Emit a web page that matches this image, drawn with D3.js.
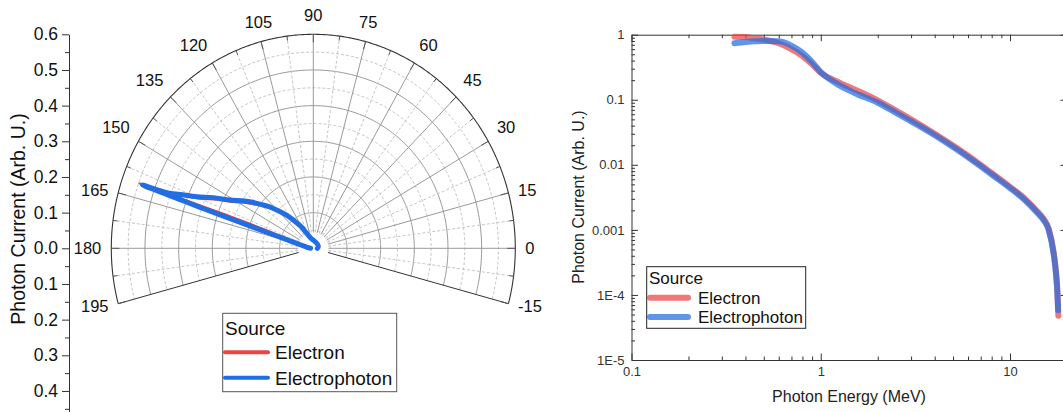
<!DOCTYPE html>
<html>
<head>
<meta charset="utf-8">
<script src="https://cdn.jsdelivr.net/npm/d3@7"></script>
<style>
  html, body { margin: 0; padding: 0; background: #fff; }
  svg { display: block; font-family: "Liberation Sans", Arial, sans-serif; }
</style>
</head>
<body>
<svg id="fig" width="1063" height="412"></svg>
<script>
// ---------- data ----------
const seriesNames = ["Electron", "Electrophoton"];
const seriesColors = ["#ea4444", "#216de3"];

// angular distribution (angle in degrees, photon current)
const electronAngle = [180, 172, 167, 163, 161, 160.2, 160.1, 160.2, 160.4, 160.5, 160.6,
  160.1, 159.0, 157.3, 154.5, 151.3, 147, 143.1, 139, 135.3, 131, 126.8, 121, 115, 105, 90, 45, 17, 0];
const electronR = [0.008, 0.02, 0.035, 0.065, 0.10, 0.14, 0.20, 0.273, 0.35, 0.43, 0.548,
  0.455, 0.412, 0.362, 0.318, 0.272, 0.234, 0.202, 0.172, 0.147, 0.120, 0.095, 0.069, 0.044, 0.030, 0.022, 0.016, 0.015, 0.012];

const photonAngle = [180, 172, 167.8, 165.5, 163.6, 162.6, 162, 161.6, 161.4, 161.2, 161.0, 160.7,
  160.3, 159.1, 157.3, 154.5, 151.3, 147, 143.1, 139, 135.3, 131, 126.8, 121, 115, 105, 90, 45, 17, 0];
const photonR = [0.008, 0.018, 0.025, 0.040, 0.062, 0.10, 0.141, 0.20, 0.273, 0.34, 0.405, 0.5375,
  0.462, 0.423, 0.375, 0.33, 0.282, 0.243, 0.21, 0.18, 0.153, 0.125, 0.099, 0.072, 0.046, 0.030, 0.023, 0.017, 0.0155, 0.012];

const polarTickAngles = [-15, 0, 15, 30, 45, 60, 75, 90, 105, 120, 135, 150, 165, 180, 195];
const polarAxisTicks = [-0.4, -0.3, -0.2, -0.1, 0, 0.1, 0.2, 0.3, 0.4, 0.5, 0.6];

// energy spectrum (MeV, photon current)
const electronE = [0.35, 0.40, 0.45, 0.50, 0.60, 0.70, 0.80, 0.90, 1.00, 1.20, 1.50, 2.0, 2.5, 3.0, 4.0, 5.0, 6.0, 7.0, 8.0, 10, 12, 14, 15, 16, 17, 17.5, 17.8, 18.0];
const electronI = [0.93, 0.92, 0.88, 0.84, 0.74, 0.60, 0.47, 0.35, 0.26, 0.195, 0.145, 0.098, 0.068, 0.050, 0.030, 0.0198, 0.0138, 0.0100, 0.0075, 0.0046, 0.0030, 0.0019, 0.0015, 0.00105, 0.00045, 0.00022, 0.00011, 0.000048];
const photonE = [0.35, 0.40, 0.45, 0.50, 0.60, 0.70, 0.80, 0.90, 1.00, 1.20, 1.50, 2.0, 2.5, 3.0, 4.0, 5.0, 6.0, 7.0, 8.0, 10, 12, 14, 15, 16, 17, 17.5, 17.8, 17.95];
const photonI = [0.74, 0.77, 0.79, 0.80, 0.79, 0.68, 0.53, 0.38, 0.265, 0.18, 0.128, 0.090, 0.063, 0.0465, 0.0285, 0.0188, 0.0131, 0.0095, 0.0071, 0.0044, 0.00285, 0.0018, 0.00143, 0.0010, 0.00043, 0.00021, 0.000105, 0.000058];

const energyTicks = [0.1, 1, 10];
const energyTickLabels = ["0.1", "1", "10"];
const currentTicks = [1e-5, 1e-4, 1e-3, 1e-2, 1e-1, 1];
const currentTickLabels = ["1E-5", "1E-4", "0.001", "0.01", "0.1", "1"];

// ---------- setup ----------
const svg = d3.select("#fig");
const FONT_L = 17.5, FONT_R = 13;

// ================= polar panel =================
const cx = 313.3, cy = 248.3;
const rx = d3.scaleLinear().domain([0, 0.6]).range([0, 202]);
const ry = d3.scaleLinear().domain([0, 0.6]).range([0, 214]);
const rad = d => d * Math.PI / 180;
const pt = (deg, r) => [cx + rx(r) * Math.cos(rad(deg)), cy - ry(r) * Math.sin(rad(deg))];

const gP = svg.append("g");
const arcLine = d3.line();

// rings
d3.range(1, 12).forEach(i => {
  const r = i * 0.05;
  const major = i % 2 === 0;
  gP.append("path")
    .attr("d", arcLine(d3.range(-15, 195.5, 1).map(a => pt(a, r))))
    .attr("fill", "none")
    .attr("stroke", major ? "#9a9a9a" : "#c6c6c6")
    .attr("stroke-width", 1)
    .attr("stroke-dasharray", major ? null : "3,2");
});
// spokes
d3.range(-15, 195.1, 7.5).forEach(a => {
  const major = Math.abs(a % 15) < 1e-6;
  const edge = a === -15 || a === 195;
  gP.append("path")
    .attr("d", arcLine([pt(a, 0.045), pt(a, 0.6)]))
    .attr("stroke", edge ? "#333" : (major ? "#9a9a9a" : "#c6c6c6"))
    .attr("stroke-width", 1)
    .attr("stroke-dasharray", major || edge ? null : "3,2");
});
// outer boundary
gP.append("path")
  .attr("d", arcLine(d3.range(-15, 195.5, 0.5).map(a => pt(a, 0.6))))
  .attr("fill", "none").attr("stroke", "#333").attr("stroke-width", 1.1);
// boundary ticks (inward)
d3.range(-15, 195.1, 7.5).forEach(a => {
  const major = Math.abs(a % 15) < 1e-6;
  const p0 = pt(a, 0.6);
  const len = major ? 8 : 4.5;
  gP.append("line")
    .attr("x1", p0[0]).attr("y1", p0[1])
    .attr("x2", p0[0] - len * Math.cos(rad(a))).attr("y2", p0[1] + len * Math.sin(rad(a)))
    .attr("stroke", "#555").attr("stroke-width", 1);
});
// angle labels: anchored just outside the rim, aligned by quadrant
polarTickAngles.forEach(a => {
  const p0 = pt(a, 0.6);
  const c = Math.cos(rad(a)), s = Math.sin(rad(a));
  const ax = p0[0] + 10 * c, ay = p0[1] - 10 * s;
  const t = gP.append("text").text(String(a))
    .attr("font-size", 16.5).attr("fill", "#111")
    .attr("text-anchor", Math.abs(c) < 0.3 ? "middle" : (c > 0 ? "start" : "end"))
    .attr("x", ax);
  if (s > 0.4) t.attr("y", ay - 3.5);
  else t.attr("y", ay).attr("dy", "0.35em");
});

// lobe curves
const lobeLine = d3.line().curve(d3.curveCatmullRom.alpha(0.5));
const lobes = [
  { ang: electronAngle, r: electronR, color: seriesColors[0], w: 2.6 },
  { ang: photonAngle, r: photonR, color: seriesColors[1], w: 5 }
];
lobes.forEach(s => {
  gP.append("path")
    .attr("d", lobeLine(s.ang.map((a, i) => pt(a, s.r[i]))))
    .attr("fill", "none").attr("stroke", s.color).attr("stroke-width", s.w)
    .attr("stroke-linejoin", "round").attr("stroke-linecap", "round");
});

// vertical radius axis
const yL = d3.scaleLinear().domain([-0.46, 0.6]).range([cy + ry(0.46), cy - ry(0.6)]);
const axL = svg.append("g").attr("transform", "translate(69,0)")
  .call(d3.axisLeft(yL).tickValues(polarAxisTicks).tickSize(7).tickSizeOuter(0).tickPadding(4)
    .tickFormat(v => Math.abs(v).toFixed(1)));
axL.selectAll("text").attr("font-size", FONT_L).attr("fill", "#111").attr("font-family", null);
axL.selectAll("line, path").attr("stroke", "#333");
const axLm = svg.append("g").attr("transform", "translate(69,0)")
  .call(d3.axisLeft(yL).tickValues(d3.range(-9, 12, 2).map(i => i * 0.05)).tickSize(4).tickFormat(""));
axLm.select(".domain").remove();
axLm.selectAll("line").attr("stroke", "#333");
svg.append("text").text("Photon Current (Arb. U.)")
  .attr("transform", "translate(25,219) rotate(-90)")
  .attr("text-anchor", "middle").attr("font-size", 19.5).attr("fill", "#111");

// polar legend
const lgL = svg.append("g");
lgL.append("rect").attr("x", 222.7).attr("y", 313.3).attr("width", 174).attr("height", 78.4)
  .attr("fill", "#fff").attr("stroke", "#555").attr("stroke-width", 1);
lgL.append("text").text("Source").attr("x", 225).attr("y", 334.5).attr("font-size", 19).attr("fill", "#111");
seriesNames.forEach((n, i) => {
  const y = 352.3 + i * 25.4;
  lgL.append("line").attr("x1", 225).attr("x2", 268).attr("y1", y).attr("y2", y)
    .attr("stroke", seriesColors[i]).attr("stroke-width", 4).attr("stroke-linecap", "round");
  lgL.append("text").text(n).attr("x", 275).attr("y", y + 7).attr("font-size", 19).attr("fill", "#111");
});

// ================= spectrum panel =================
const x0 = 631.5, x1 = 1067, yTop = 34.7, yBot = 360;
const xR = d3.scaleLog().domain([0.1, 20]).range([x0, x1]);
const yR = d3.scaleLog().domain([1e-5, 1]).range([yBot, yTop]);
const minorX = [0.2, 0.3, 0.4, 0.5, 0.6, 0.7, 0.8, 0.9, 2, 3, 4, 5, 6, 7, 8, 9, 20];
const minorY = [];
currentTicks.slice(0, -1).forEach(t => d3.range(2, 10).forEach(k => minorY.push(t * k)));

const styleAxis = g => {
  g.selectAll("line, path").attr("stroke", "#333");
  g.selectAll("text").attr("font-size", FONT_R).attr("fill", "#333").attr("font-family", null);
};
const gR = svg.append("g");
// major axes
gR.append("g").attr("transform", `translate(0,${yBot})`)
  .call(d3.axisBottom(xR).tickValues(energyTicks).tickSize(-6.5).tickSizeOuter(0).tickPadding(7)
    .tickFormat((d, i) => energyTickLabels[i])).call(styleAxis);
gR.append("g").attr("transform", `translate(0,${yTop})`)
  .call(d3.axisTop(xR).tickValues(energyTicks).tickSize(-6.5).tickSizeOuter(0).tickFormat("")).call(styleAxis);
gR.append("g").attr("transform", `translate(${x0},0)`)
  .call(d3.axisLeft(yR).tickValues(currentTicks).tickSize(-6.5).tickSizeOuter(0).tickPadding(7)
    .tickFormat((d, i) => currentTickLabels[i])).call(styleAxis);
gR.append("g").attr("transform", `translate(${x1},0)`)
  .call(d3.axisRight(yR).tickValues(currentTicks).tickSize(-6.5).tickSizeOuter(0).tickFormat("")).call(styleAxis);
// minor ticks
[[d3.axisBottom(xR), minorX, `translate(0,${yBot})`], [d3.axisTop(xR), minorX, `translate(0,${yTop})`],
 [d3.axisLeft(yR), minorY, `translate(${x0},0)`], [d3.axisRight(yR), minorY, `translate(${x1},0)`]]
  .forEach(([ax, vals, tr]) => {
    const g = gR.append("g").attr("transform", tr)
      .call(ax.tickValues(vals).tickSize(-3.5).tickFormat(""));
    g.select(".domain").remove();
    g.selectAll("line").attr("stroke", "#333");
  });

// spectrum curves
const specLine = d3.line().x(d => xR(d[0])).y(d => yR(d[1])).curve(d3.curveMonotoneX);
const specs = [
  { e: electronE, v: electronI, color: seriesColors[0] },
  { e: photonE, v: photonI, color: seriesColors[1] }
];
specs.forEach(s => {
  gR.append("path")
    .attr("d", specLine(s.e.map((e, i) => [e, s.v[i]])))
    .attr("fill", "none").attr("stroke", s.color).attr("stroke-width", 6)
    .attr("stroke-opacity", 0.72).attr("stroke-linecap", "round").attr("stroke-linejoin", "round");
});

// titles
svg.append("text").text("Photon Energy (MeV)")
  .attr("x", 849).attr("y", 401.5).attr("text-anchor", "middle").attr("font-size", 16).attr("fill", "#222");
svg.append("text").text("Photon Current (Arb. U.)")
  .attr("transform", "translate(584,197) rotate(-90)")
  .attr("text-anchor", "middle").attr("font-size", 16).attr("fill", "#222");

// spectrum legend
const lgR = svg.append("g");
lgR.append("rect").attr("x", 646.7).attr("y", 266.7).attr("width", 159).attr("height", 61.6)
  .attr("fill", "#fff").attr("stroke", "#222").attr("stroke-width", 1);
lgR.append("text").text("Source").attr("x", 649).attr("y", 283.5).attr("font-size", 17).attr("fill", "#111");
seriesNames.forEach((n, i) => {
  const y = 297.7 + i * 19.3;
  lgR.append("line").attr("x1", 650).attr("x2", 688).attr("y1", y).attr("y2", y)
    .attr("stroke", seriesColors[i]).attr("stroke-width", 6).attr("stroke-opacity", 0.72)
    .attr("stroke-linecap", "round");
  lgR.append("text").text(n).attr("x", 698).attr("y", y + 6).attr("font-size", 17).attr("fill", "#111");
});
</script>
</body>
</html>
